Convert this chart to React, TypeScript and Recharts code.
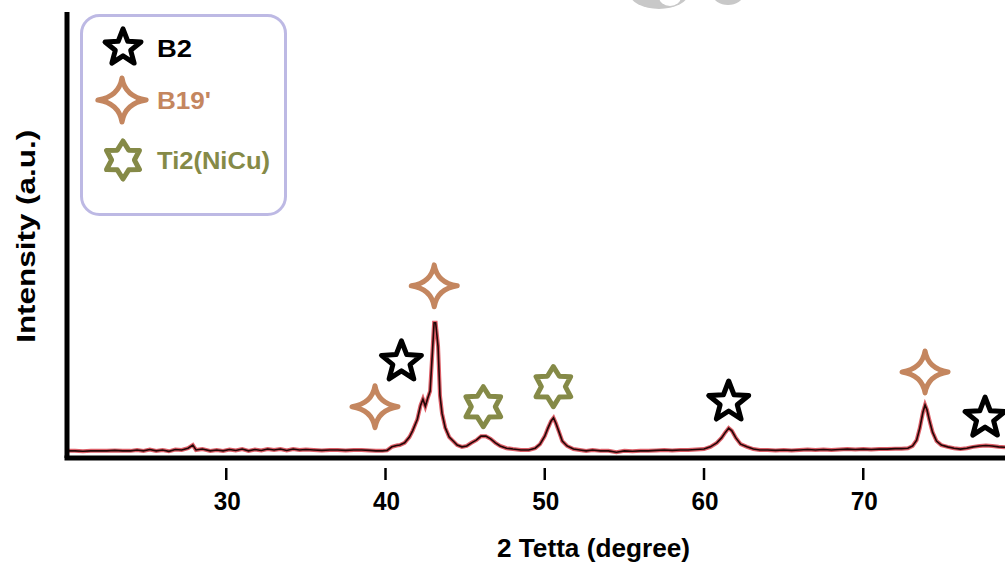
import React from 'react';
import { ComposedChart, Line, Scatter, XAxis, YAxis, Legend } from 'recharts';

const twoTheta = [
  20.0, 20.5, 21.0, 21.5, 22.0, 22.5, 23.0, 23.5,
  24.0, 24.4, 24.8, 25.2, 25.6, 26.0, 26.4, 26.8, 27.2, 27.6, 27.9, 28.1,
  28.5, 29.0, 29.4, 29.8, 30.2, 30.6, 31.0, 31.4, 31.8, 32.2, 32.6, 33.0, 33.4, 33.8, 34.2, 34.6,
  35.0, 35.5, 36.0, 36.5, 37.0, 37.5, 38.0, 38.5, 39.0, 39.4, 39.8, 40.1,
  40.4, 40.7, 40.9, 41.2, 41.5, 41.7, 42.0, 42.2, 42.35, 42.5, 42.65, 42.8, 42.95, 43.05, 43.15, 43.3, 43.42, 43.55, 43.75, 44.0, 44.25, 44.5, 44.8,
  45.1, 45.4, 45.7, 46.0, 46.3, 46.6, 46.9, 47.2, 47.6, 48.0, 48.5, 49.0, 49.4, 49.7,
  50.0, 50.2, 50.4, 50.55, 50.7, 50.9, 51.1, 51.4, 51.8, 52.2, 52.6,
  53.0, 53.5, 54.0, 54.5, 55.0, 55.5, 56.0, 56.5, 57.0, 57.5, 58.0, 58.5, 59.0, 59.5, 60.0,
  60.4, 60.8, 61.1, 61.35, 61.55, 61.75, 62.0, 62.3, 62.7, 63.1, 63.5,
  64.0, 64.5, 65.0, 65.5, 66.0, 66.5, 67.0, 67.5, 68.0, 68.5, 69.0, 69.5, 70.0, 70.5, 71.0, 71.5, 72.0, 72.4,
  72.8, 73.1, 73.35, 73.55, 73.75, 73.88, 74.0, 74.15, 74.35, 74.6, 74.9, 75.3, 75.7, 76.1, 76.5, 76.9, 77.3, 77.7, 78.1, 78.5, 78.9,
];
const intensity = [
  16, 16, 15, 16, 16, 16, 17, 16,
  16, 18, 16, 19, 16, 18, 15, 19, 18, 22, 29, 18,
  20, 16, 18, 16, 19, 17, 20, 16, 19, 17, 20, 18, 20, 17, 20, 18,
  19, 18, 17, 18, 18, 17, 18, 18, 17, 16, 16, 17,
  25, 28, 29, 34, 47, 61, 87, 118, 132, 116, 134, 150, 240, 303, 303, 250, 140, 100, 68, 47, 38, 29, 25,
  27, 34, 40, 49, 49, 43, 34, 27, 22, 20, 18, 18, 22, 31,
  49, 67, 83, 90, 78, 58, 38, 27, 20, 18, 16,
  18, 16, 16, 13, 16, 15, 16, 16, 17, 18, 17, 18, 18, 19, 20,
  25, 34, 45, 58, 67, 61, 45, 31, 25, 20, 18,
  18, 17, 18, 17, 18, 19, 18, 19, 18, 19, 20, 19, 20, 19, 20, 20, 21, 21,
  22, 27, 40, 67, 103, 119, 108, 85, 58, 38, 29, 25, 22, 20, 22, 25, 27, 28, 27, 25, 24,
];

const xTicks = [30, 40, 50, 60, 70];

// phase markers: positions (2θ) and heights (a.u.) where symbols sit
const b2Theta = [41.0, 61.55, 77.65];
const b2Level = [220, 130, 94];
const b19Theta = [39.34, 43.06, 73.88];
const b19Level = [115, 386, 193];
const ti2Theta = [46.14, 50.54];
const ti2Level = [115, 160];

const legendLabels = ['B2', "B19'", 'Ti2(NiCu)'];

const B2_COLOR = '#000000';
const B19_COLOR = '#c4865f';
const TI2_COLOR = '#858a47';
const FONT = "'Liberation Sans', Arial, Helvetica, sans-serif";

const curve = twoTheta.map((t, i) => ({ x: t, y: intensity[i] }));
const b2Data = b2Theta.map((t, i) => ({ x: t, y: b2Level[i] }));
const b19Data = b19Theta.map((t, i) => ({ x: t, y: b19Level[i] }));
const ti2Data = ti2Theta.map((t, i) => ({ x: t, y: ti2Level[i] }));

function polyStar(cx: number, cy: number, R: number, r: number, n: number) {
  const pts: string[] = [];
  for (let k = 0; k < 2 * n; k++) {
    const ang = -Math.PI / 2 + (k * Math.PI) / n;
    const rad = k % 2 === 0 ? R : r;
    pts.push(`${(cx + rad * Math.cos(ang)).toFixed(2)},${(cy + rad * Math.sin(ang)).toFixed(2)}`);
  }
  return 'M' + pts.join('L') + 'Z';
}

function fourStar(cx: number, cy: number, rx: number, ry: number, c: number) {
  return `M${cx},${cy - ry} Q${cx + c},${cy - c} ${cx + rx},${cy} Q${cx + c},${cy + c} ${cx},${cy + ry} Q${cx - c},${cy + c} ${cx - rx},${cy} Q${cx - c},${cy - c} ${cx},${cy - ry} Z`;
}

const B2Shape = ({ cx, cy, s = 1 }: any) => (
  <path d={polyStar(cx, cy + 2 * s, 21 * s, 9 * s, 5)} fill="#fff" stroke={B2_COLOR} strokeWidth={5} strokeLinejoin="round" />
);
const B19Shape = ({ cx, cy, s = 1 }: any) => (
  <path d={fourStar(cx, cy, 23 * s, 21 * s, 3 * s)} fill="#fff" stroke={B19_COLOR} strokeWidth={5} strokeLinejoin="round" />
);
const Ti2Shape = ({ cx, cy, s = 1 }: any) => (
  <path d={polyStar(cx, cy, 20 * s, 12 * s, 6)} fill="#fff" stroke={TI2_COLOR} strokeWidth={5} strokeLinejoin="round" />
);

const XTick = (props: any) => {
  const { x, y, payload } = props;
  return (
    <g>
      <line x1={x} x2={x} y1={y + 10} y2={y + 22} stroke="#000" strokeWidth={2.5} />
      <text x={x + 1} y={y + 52} textAnchor="middle" fontFamily={FONT} fontWeight="bold" fontSize={26} fill="#000"
        textLength={27} lengthAdjust="spacingAndGlyphs">
        {payload.value}
      </text>
    </g>
  );
};

const XTitle = (props: any) => {
  const vb = props.viewBox;
  return (
    <text x={vb.x + vb.width * 0.5613} y={vb.y + 99} textAnchor="middle" fontFamily={FONT} fontWeight="bold" fontSize={26}
      fill="#000" textLength={193} lengthAdjust="spacingAndGlyphs">
      2 Tetta (degree)
    </text>
  );
};

const YTitle = (props: any) => {
  const vb = props.viewBox;
  const cx = vb.x + 35;
  const cy = vb.y + vb.height * 0.503;
  return (
    <text x={cx} y={cy} transform={`rotate(-90, ${cx}, ${cy})`} textAnchor="middle" fontFamily={FONT} fontWeight="bold"
      fontSize={26} fill="#000" textLength={213} lengthAdjust="spacingAndGlyphs">
      Intensity (a.u.)
    </text>
  );
};

const LegendBox = () => (
  <svg width={207} height={202} style={{ display: 'block' }}>
    <rect x={1.5} y={1.5} width={204} height={199} rx={18} ry={18} fill="#fff" stroke="#bdb9e4" strokeWidth={3} />
    <B2Shape cx={43} cy={32} s={0.9} />
    <text x={77} y={43} fontFamily={FONT} fontWeight="bold" fontSize={24} fill={B2_COLOR} textLength={35} lengthAdjust="spacingAndGlyphs">
      {legendLabels[0]}
    </text>
    <B19Shape cx={42} cy={86} s={1.05} />
    <text x={77} y={95} fontFamily={FONT} fontWeight="bold" fontSize={24} fill={B19_COLOR} textLength={54} lengthAdjust="spacingAndGlyphs">
      {legendLabels[1]}
    </text>
    <Ti2Shape cx={43} cy={146} s={0.95} />
    <text x={77} y={155} fontFamily={FONT} fontWeight="bold" fontSize={24} fill={TI2_COLOR} textLength={113} lengthAdjust="spacingAndGlyphs">
      {legendLabels[2]}
    </text>
  </svg>
);

export default function App() {
  return (
    <div style={{ position: 'absolute', left: 0, top: 0, width: 1005, height: 562, background: '#fff', overflow: 'hidden' }}>
      <ComposedChart width={1005} height={562} data={curve} margin={{ top: 12, right: 0, bottom: 0, left: 0 }}>
        <XAxis
          type="number"
          dataKey="x"
          domain={[20, 78.9]}
          allowDataOverflow
          ticks={xTicks}
          interval={0}
          height={104}
          tickSize={0}
          tickMargin={0}
          tickLine={false}
          tick={<XTick />}
          axisLine={{ stroke: '#000', strokeWidth: 5, strokeLinecap: 'square' }}
          label={{ content: <XTitle /> } as any}
        />
        <YAxis
          type="number"
          domain={[0, 1000]}
          allowDataOverflow
          width={67}
          tick={false}
          tickLine={false}
          axisLine={{ stroke: '#000', strokeWidth: 5 }}
          label={{ content: <YTitle /> } as any}
        />
        <Legend
          layout="horizontal"
          verticalAlign="middle"
          align="center"
          content={() => <LegendBox />}
          wrapperStyle={{ left: 80, top: 14, width: 207, height: 202 }}
        />
        <Line type="linear" dataKey="y" stroke="#d02a36" strokeWidth={4} strokeOpacity={0.75} dot={false} isAnimationActive={false} legendType="none" />
        <Line type="linear" dataKey="y" stroke="#220606" strokeWidth={1.6} dot={false} isAnimationActive={false} legendType="none" />
        <Scatter data={b2Data} dataKey="y" shape={(p: any) => <B2Shape cx={p.cx} cy={p.cy} />} isAnimationActive={false} legendType="none" />
        <Scatter data={b19Data} dataKey="y" shape={(p: any) => <B19Shape cx={p.cx} cy={p.cy} />} isAnimationActive={false} legendType="none" />
        <Scatter data={ti2Data} dataKey="y" shape={(p: any) => <Ti2Shape cx={p.cx} cy={p.cy} />} isAnimationActive={false} legendType="none" />
      </ComposedChart>
      <svg width={1005} height={20} style={{ position: 'absolute', left: 0, top: 0, pointerEvents: 'none' }}>
        <ellipse cx={659} cy={-6} rx={29} ry={15} fill="#c8c8c8" />
        <ellipse cx={670} cy={-3} rx={11} ry={9} fill="#fff" />
        <ellipse cx={728} cy={-5} rx={15} ry={10} fill="#c8c8c8" />
      </svg>
    </div>
  );
}
